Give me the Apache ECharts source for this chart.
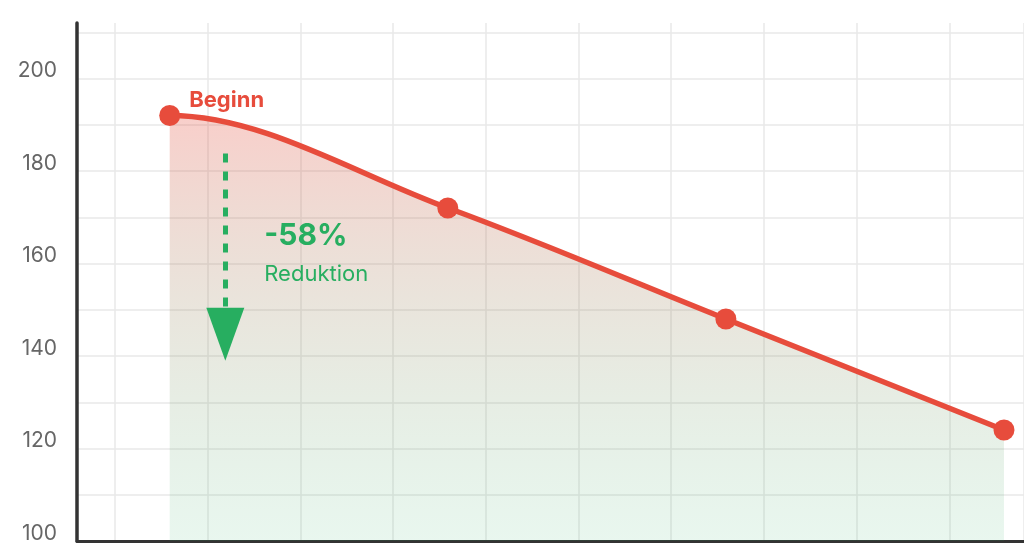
<!DOCTYPE html>
<html>
<head>
<meta charset="utf-8">
<style>
  html, body { margin: 0; padding: 0; background: #ffffff; }
  #chart { width: 1024px; height: 553px; }
</style>
<script src="https://cdn.jsdelivr.net/npm/echarts@6/dist/echarts.min.js"></script>
</head>
<body>
<div id="chart"></div>
<script>
// ---- data ----
var xPositions = [1, 4, 7, 10];
var values = [192, 172, 148, 124];
var yTickLabels = [100, 120, 140, 160, 180, 200];
var startLabel = 'Beginn';
var changeText = '-58%';
var changeSub = 'Reduktion';
var arrowFrom = [1.6, 183.8];
var arrowTo = [1.6, 144.7];
var startLabelAt = [1.21, 195.2];
var changeTextAt = [2.02, 166.0];
var changeSubAt = [2.02, 157.6];

var Y_MIN = 100, Y_MAX = 212;
var RED = '#e74c3c';
var GREEN = '#27ae60';
var FONT = 'Inter, "Noto Sans", sans-serif';

var points = xPositions.map(function (x, i) { return [x, values[i]]; });

function buildPath(px) {
  // cubic spline through pixel points: flat start, averaged secants inside
  var n = px.length;
  var sec = [];
  for (var i = 0; i < n - 1; i++) {
    sec.push((px[i + 1][1] - px[i][1]) / (px[i + 1][0] - px[i][0]));
  }
  var tan = [];
  for (var k = 0; k < n; k++) {
    if (k === 0) tan.push(0);
    else if (k === n - 1) tan.push(sec[n - 2]);
    else tan.push((sec[k - 1] + sec[k]) / 2);
  }
  var d = 'M' + px[0][0] + ' ' + px[0][1];
  for (var j = 0; j < n - 1; j++) {
    var h = (px[j + 1][0] - px[j][0]) / 3;
    var c1x = px[j][0] + h, c1y = px[j][1] + tan[j] * h;
    var c2x = px[j + 1][0] - h, c2y = px[j + 1][1] - tan[j + 1] * h;
    d += ' C' + c1x + ' ' + c1y + ' ' + c2x + ' ' + c2y + ' ' + px[j + 1][0] + ' ' + px[j + 1][1];
  }
  return d;
}

var chart = echarts.init(document.getElementById('chart'));
chart.setOption({
  animation: false,
  backgroundColor: '#ffffff',
  grid: [
    { left: 77, right: 0, top: 23, bottom: 12 },
    { left: 115, right: 0, top: 23, bottom: 12 }
  ],
  xAxis: [
    {
      gridIndex: 0, type: 'value', min: 0, max: 10.216,
      axisLine: { show: true, onZero: false, lineStyle: { color: '#333333', width: 3 } },
      axisTick: { show: false }, axisLabel: { show: false }, splitLine: { show: false }
    },
    {
      gridIndex: 1, type: 'value', min: 0, max: 9.806, interval: 1,
      axisLine: { show: false }, axisTick: { show: false }, axisLabel: { show: false },
      splitLine: { show: true, lineStyle: { color: '#e9e9e9', width: 1.5 } }
    }
  ],
  yAxis: [
    {
      gridIndex: 0, type: 'value', min: Y_MIN, max: Y_MAX, interval: 10,
      axisLine: { show: true, onZero: false, lineStyle: { color: '#333333', width: 3.5 } },
      axisTick: { show: false },
      axisLabel: {
        show: true, color: '#666666', fontSize: 21, fontFamily: FONT, margin: 20,
        verticalAlign: 'bottom', lineHeight: 15, showMaxLabel: false,
        formatter: function (v) { return yTickLabels.indexOf(v) >= 0 ? String(v) : ''; }
      },
      splitLine: { show: true, showMaxLine: false, lineStyle: { color: '#e9e9e9', width: 1.5 } }
    },
    {
      gridIndex: 1, type: 'value', min: 0, max: 1, show: false,
      splitLine: { show: false }
    }
  ],
  series: [
    {
      type: 'custom',
      xAxisIndex: 0, yAxisIndex: 0,
      data: points,
      z: 2,
      silent: true,
      renderItem: function (params, api) {
        if (params.dataIndex !== 0) return null;
        var px = points.map(function (p) { return api.coord(p); });
        var base = api.coord([xPositions[0], Y_MIN])[1];
        var linePath = buildPath(px);
        var last = px[px.length - 1];
        var areaPath = linePath + ' L' + last[0] + ' ' + base + ' L' + px[0][0] + ' ' + base + ' Z';
        return {
          type: 'group',
          children: [
            {
              type: 'path',
              shape: { pathData: areaPath },
              style: {
                fill: new echarts.graphic.LinearGradient(0, 0, 0, 1, [
                  { offset: 0, color: 'rgba(231,76,60,0.27)' },
                  { offset: 1, color: 'rgba(39,174,96,0.1)' }
                ]),
                stroke: null
              }
            },
            {
              type: 'path',
              shape: { pathData: linePath },
              style: { fill: null, stroke: RED, lineWidth: 5.5, lineCap: 'round', lineJoin: 'round' }
            }
          ]
        };
      }
    },
    {
      type: 'line',
      xAxisIndex: 0, yAxisIndex: 0,
      data: points,
      symbol: 'circle',
      symbolSize: 21,
      lineStyle: { width: 0, opacity: 0 },
      itemStyle: { color: RED },
      z: 3,
      markLine: {
        silent: true,
        symbol: ['none', 'triangle'],
        symbolSize: [38, 53],
        label: { show: false },
        lineStyle: { color: GREEN, width: 5, type: [9, 9] },
        itemStyle: { color: GREEN },
        emphasis: { disabled: true },
        data: [[{ coord: arrowFrom }, { coord: arrowTo }]]
      },
      markPoint: {
        silent: true,
        symbol: 'circle',
        symbolSize: 0,
        emphasis: { disabled: true },
        data: [
          {
            coord: startLabelAt, value: startLabel,
            label: { show: true, position: 'inside', align: 'left', verticalAlign: 'middle',
              formatter: startLabel, color: RED, fontSize: 22, fontWeight: 'bold', fontFamily: FONT }
          },
          {
            coord: changeTextAt, value: changeText,
            label: { show: true, position: 'inside', align: 'left', verticalAlign: 'middle',
              formatter: changeText, color: GREEN, fontSize: 30, fontWeight: 'bold', fontFamily: FONT }
          },
          {
            coord: changeSubAt, value: changeSub,
            label: { show: true, position: 'inside', align: 'left', verticalAlign: 'middle',
              formatter: changeSub, color: GREEN, fontSize: 22, fontFamily: FONT }
          }
        ]
      }
    }
  ]
});
</script>
</body>
</html>
